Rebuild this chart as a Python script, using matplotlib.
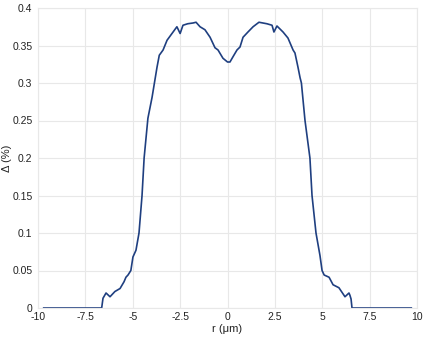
import numpy as np
import matplotlib.pyplot as plt

plt.rcParams['font.family'] = ['Liberation Sans', 'DejaVu Sans']

# profile
r = [-9.7, -6.64, -6.57, -6.41, -6.2, -5.94, -5.67, -5.46, -5.36, -5.25, -5.1,
     -4.99, -4.83, -4.67, -4.51, -4.4, -4.2, -3.98, -3.72, -3.6, -3.4, -3.19,
     -2.93, -2.67, -2.5, -2.35, -2.1, -1.82, -1.66, -1.45, -1.19, -0.92, -0.66,
     -0.5, -0.24, 0.0, 0.13, 0.29, 0.5, 0.66, 0.82, 1.08, 1.35, 1.66, 2.08,
     2.35, 2.45, 2.61, 2.93, 3.19, 3.46, 3.56, 3.72, 3.83, 3.9, 4.09, 4.35,
     4.46, 4.67, 4.88, 4.99, 5.1, 5.36, 5.57, 5.88, 6.2, 6.41, 6.46, 6.52,
     6.57, 9.7]
delta = [0.0, 0.0, 0.013, 0.02, 0.015, 0.022, 0.026, 0.035, 0.041, 0.044, 0.05,
         0.068, 0.077, 0.1, 0.15, 0.2, 0.253, 0.281, 0.321, 0.337, 0.344, 0.357,
         0.366, 0.375, 0.366, 0.377, 0.379, 0.38, 0.381, 0.375, 0.371, 0.361,
         0.347, 0.344, 0.333, 0.328, 0.328, 0.335, 0.344, 0.348, 0.361, 0.368,
         0.375, 0.381, 0.379, 0.377, 0.368, 0.376, 0.368, 0.36, 0.344, 0.34,
         0.321, 0.307, 0.3, 0.25, 0.2, 0.15, 0.1, 0.07, 0.05, 0.044, 0.041,
         0.031, 0.027, 0.015, 0.02, 0.017, 0.012, 0.0, 0.0]

xticks = [-10, -7.5, -5, -2.5, 0, 2.5, 5, 7.5, 10]
xlabels = ['-10', '-7.5', '-5', '-2.5', '0', '2.5', '5', '7.5', '10']
yticks = [0, 0.05, 0.1, 0.15, 0.2, 0.25, 0.3, 0.35, 0.4]
ylabels = ['0', '0.05', '0.1', '0.15', '0.2', '0.25', '0.3', '0.35', '0.4']

fig = plt.figure(figsize=(4.25, 3.38), dpi=100)
ax = fig.add_axes([38/425, 1 - 308/338, 379/425, 300/338])
ax.plot(r, delta, color='#1f3f80', lw=1.2)

ax.set_xlim(-10, 10)
ax.set_ylim(0, 0.4)
ax.set_xticks(xticks)
ax.set_xticklabels(xlabels)
ax.set_yticks(yticks)
ax.set_yticklabels(ylabels)
ax.grid(True, color='#e8e8e8', lw=0.8)
for s in ax.spines.values():
    s.set_color('#e8e8e8')
    s.set_linewidth(0.8)
ax.tick_params(length=0, labelsize=7.5, colors='#222222', pad=3)
ax.tick_params(axis='y', pad=4)
ax.set_xlabel('r (μm)', fontsize=8, color='#222222', labelpad=1)
ax.set_ylabel('Δ (%)', fontsize=8, color='#222222')
ax.yaxis.set_label_coords(-0.068, 0.5)

fig.savefig('out.png', dpi=100)
